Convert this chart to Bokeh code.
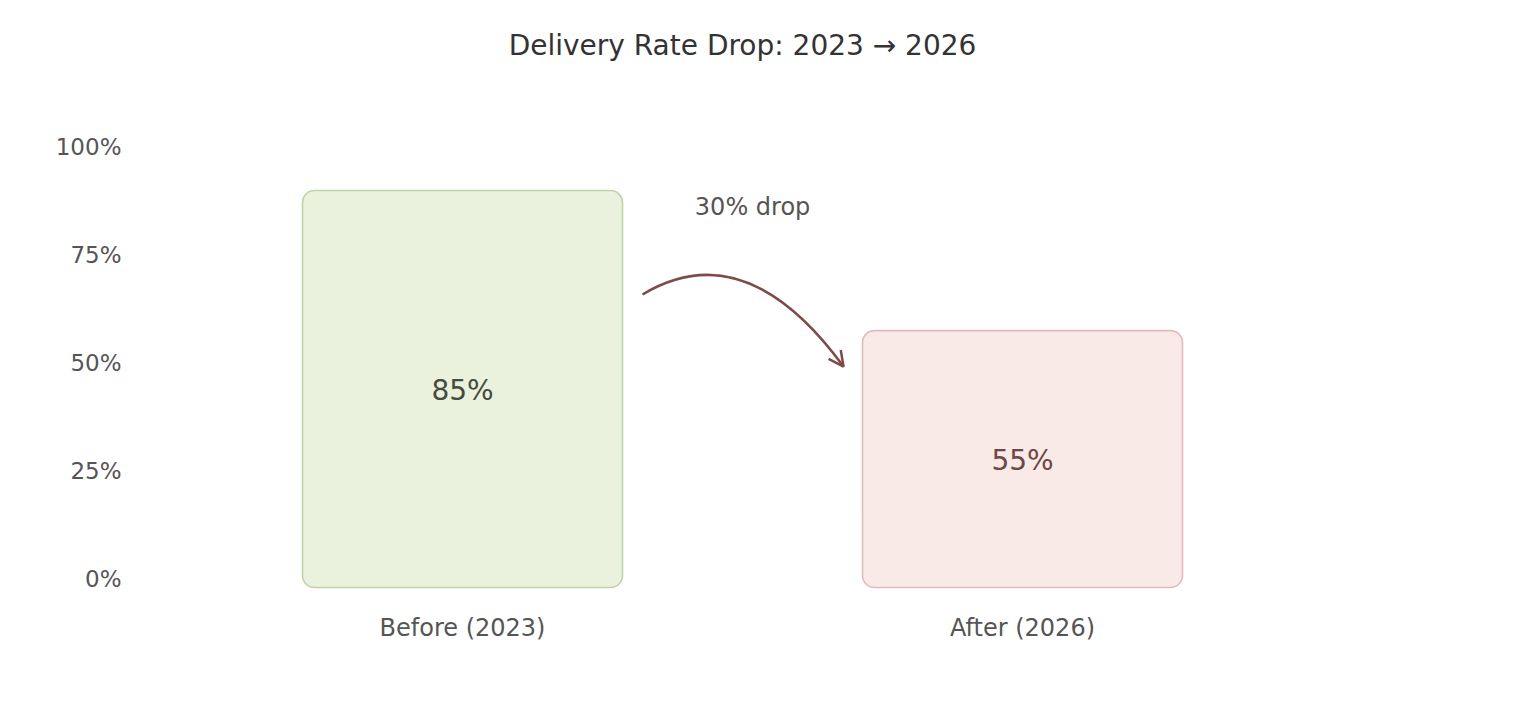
from bokeh.plotting import figure
from bokeh.models import Range1d, LinearAxis, FixedTicker, Arrow, OpenHead, ColumnDataSource
from bokeh.core.properties import value
from bokeh.embed import file_html
from bokeh.resources import INLINE

# ---- data ----
title_text = "Delivery Rate Drop: 2023 \u2192 2026"
categories = ["Before (2023)", "After (2026)"]
rates = [85, 55]
bar_fills = ["#eaf2dd", "#f9eae8"]
bar_edges = ["#c0d3a8", "#e0bcbc"]
value_colors = ["#454b3e", "#6e4646"]
y_ticks = [0, 25, 50, 75, 100]
drop_label = "30% drop"

FONT = "DejaVu Sans"

p = figure(width=1508, height=692, output_backend="svg", toolbar_location=None,
           x_range=Range1d(-0.5929, 1.8536), y_range=Range1d(-5.09, 133.80),
           min_border_left=130, min_border_right=8, min_border_top=0, min_border_bottom=92,
           x_axis_location=None, y_axis_location=None)
p.outline_line_color = None
p.grid.visible = False
p.background_fill_color = "white"
p.border_fill_color = "white"

# extra range for bars
p.extra_y_ranges = {"bars": Range1d(-2.78, 125.70)}

xs = list(range(len(categories)))
src = ColumnDataSource(dict(x=xs, top=rates, fill=bar_fills, edge=bar_edges,
                            lab=[f"{v}%" for v in rates], ymid=[v / 2 for v in rates],
                            tcol=value_colors))
p.vbar(x="x", top="top", bottom=0, width=0.5714, source=src, y_range_name="bars",
       fill_color="fill", line_color="edge", line_width=1.6, border_radius=12)
p.text(x="x", y="ymid", text="lab", source=src, y_range_name="bars",
       text_align="center", text_baseline="middle", text_font=value(FONT),
       text_font_size="28px", text_color="tcol", y_offset=1)

# title (centred text)
p.text(x=[0.5], y=[123.38], text=[title_text], text_align="center", text_baseline="middle",
       text_font=value(FONT), text_font_size="28px", text_color="#333333")

# axes
yax = LinearAxis(ticker=FixedTicker(ticks=y_ticks),
                 major_label_overrides={t: f"{t}%" for t in y_ticks})
yax.axis_line_color = None
yax.major_tick_line_color = None
yax.minor_tick_line_color = None
yax.major_tick_out = 0
yax.major_label_standoff = 9
yax.major_label_text_font = FONT
yax.major_label_text_font_size = "23px"
yax.major_label_text_color = "#555555"
p.add_layout(yax, "left")

xax = LinearAxis(ticker=FixedTicker(ticks=xs),
                 major_label_overrides={i: c for i, c in enumerate(categories)})
xax.axis_line_color = None
xax.major_tick_line_color = None
xax.minor_tick_line_color = None
xax.major_tick_out = 0
xax.major_label_standoff = 13
xax.major_label_text_font = FONT
xax.major_label_text_font_size = "24px"
xax.major_label_text_color = "#555555"
p.add_layout(xax, "below")

# curved arrow
ac = "#7d4b48"
p.quadratic(x0=[0.3214], y0=[65.74], x1=[0.6804], y1=[49.07], cx=[0.5054], cy=[80.09],
            line_color=ac, line_width=2.5)
p.add_layout(Arrow(x_start=0.6751, y_start=50.01, x_end=0.6804, y_end=49.07,
                   line_color=ac, line_width=2.5,
                   end=OpenHead(size=15, line_color=ac, line_width=2.5)))

p.text(x=[0.518], y=[85.9], text=[drop_label], text_align="center", text_baseline="middle",
       text_font=value(FONT), text_font_size="24px", text_color="#555555")

open("out.html", "w").write(file_html(p, INLINE))
